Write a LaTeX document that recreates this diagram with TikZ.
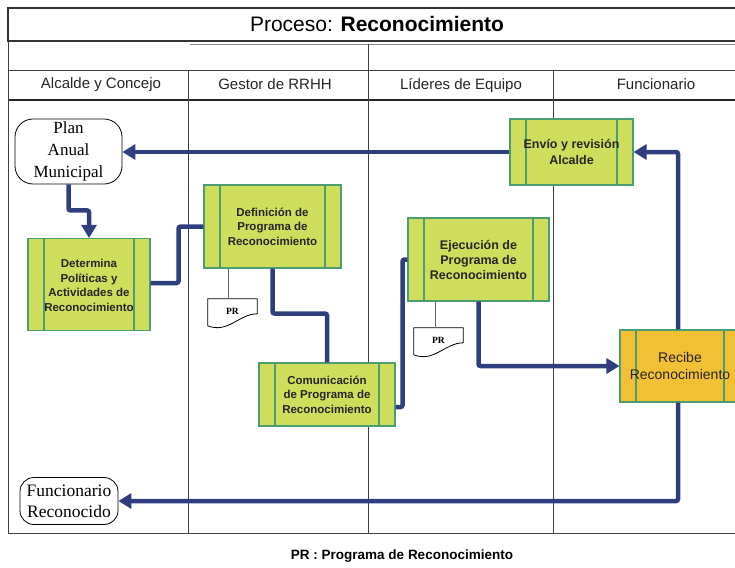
\documentclass[tikz,border=0pt]{standalone}
\usepackage{fontspec}
\setmainfont{Liberation Sans}
\newfontfamily\termfont{Liberation Serif}
\usetikzlibrary{arrows.meta,calc}
\definecolor{flowblue}{HTML}{2F3F7D}
\definecolor{boxgreen}{HTML}{CEDD5C}
\definecolor{boxedge}{HTML}{4A9E72}
\definecolor{boxorange}{HTML}{F2C035}
% document outline round a named PR node
\newcommand\prdoc[1]{\draw[line width=0.8pt] (#1.north west) -- (#1.north east) -- ($(#1.north east)+(0,15)$) .. controls ($(#1.north east)+(-18,15)$) and ($(#1.north west)+(20,35)$) .. ($(#1.north west)+(0,27)$) -- cycle;}

\begin{document}
\begin{tikzpicture}[x=1pt,y=-1pt,
		lane/.style={line width=0.7pt, color=black!75},
		lanename/.style={font=\fontsize{15}{17}\selectfont, text=black!85},
		activity/.style={draw=boxedge, fill=boxgreen, line width=1.1pt, inner sep=0pt, align=center, text=black!85,
			font=\bfseries\fontsize{11.5}{14.5}\selectfont,
			path picture={\draw[boxedge, line width=1.1pt]
				([xshift=16pt]path picture bounding box.north west) -- ([xshift=16pt]path picture bounding box.south west)
				([xshift=-16pt]path picture bounding box.north east) -- ([xshift=-16pt]path picture bounding box.south east);}},
		terminal/.style={draw, line width=0.8pt, align=center, inner sep=0pt, rounded corners=#1},
		terminal/.default=16pt,
		prnode/.style={inner sep=0pt, minimum width=49pt, minimum height=24pt, font=\termfont\bfseries\fontsize{9.5}{11}\selectfont},
		flow/.style={draw=flowblue, line width=4.5pt, rounded corners=2pt},
		tip/.style={-{Triangle[length=13pt,width=15pt]}},
		docline/.style={black!60, line width=0.8pt}]
		%%%%% START %%%%%
		\useasboundingbox (0,0) rectangle (735,567);
		
		% swimlane frame
		\draw[line width=1.1pt, color=black!80] (8,8) rectangle (740,41);
		\node (title) at (377,24) {\fontsize{21}{24}\selectfont Proceso: \textbf{Reconocimiento}};
		\draw[lane, color=black!45] (190,44) -- (735,44);
		\draw[lane] (368,44) -- (368,70);
		\draw[lane] (8,70) -- (735,70);
		\draw[line width=1.2pt, color=black!85] (8,100) -- (735,100);
		\draw[lane] (8,41) -- (8,533) -- (735,533);
		\draw[lane] (188,70) -- (188,533);
		\draw[lane] (368,70) -- (368,533);
		\draw[lane] (553,70) -- (553,533);
		
		\node[lanename] (laneA) at (101,85) {Alcalde y Concejo};
		\node[lanename] (laneB) at (275,84) {Gestor de RRHH};
		\node[lanename] (laneC) at (461,86) {Líderes de Equipo};
		\node[lanename] (laneD) at (656,84) {Funcionario};
		
		% terminals
		\node[terminal=18pt, minimum width=107pt, minimum height=65pt, font=\termfont\fontsize{17}{22}\selectfont] (plan) at (68.5,151.5) {Plan\\Anual\\Municipal};
		\node[terminal=14pt, minimum width=98pt, minimum height=47pt, font=\termfont\fontsize{17.5}{21}\selectfont] (funrec) at (69,501) {Funcionario\\Reconocido};
		
		% activities
		\node[activity, minimum width=122pt, minimum height=92pt] (determina) at (89,284.5) {\\[-4pt]Determina\\Políticas y\\Actividades de\\Reconocimiento};
		\node[activity, minimum width=137pt, minimum height=83pt] (definicion) at (272.5,226.5) {Definición de\\Programa de\\Reconocimiento};
		\node[activity, minimum width=123pt, minimum height=66pt, font=\bfseries\fontsize{12.5}{16}\selectfont] (envio) at (571.5,152) {Envío y revisión\\Alcalde};
		\node[activity, minimum width=141pt, minimum height=83pt, font=\bfseries\fontsize{12.5}{15}\selectfont] (ejecucion) at (478.5,259.5) {Ejecución de\\Programa de\\Reconocimiento};
		\node[activity, minimum width=136pt, minimum height=63pt] (comunicacion) at (327,394.5) {Comunicación\\de Programa de\\Reconocimiento};
		\node[activity, fill=boxorange, minimum width=120pt, minimum height=72pt, font=\fontsize{14}{17}\selectfont] (recibe) at (680,366) {Recibe\\Reconocimiento};
		
		% PR documents
		\node[prnode] (prA) at (232.5,311) {PR};
		\prdoc{prA}
		\path (prA.north) ++(-4,0) coordinate (prAtop);
		\draw[docline] (prAtop) -- (prAtop |- definicion.south);
		\node[prnode] (prB) at (438.5,340) {PR};
		\prdoc{prB}
		\path (prB.north) ++(-3.5,0) coordinate (prBtop);
		\draw[docline] (prBtop) -- (prBtop |- ejecucion.south);
		
		% flow
		\draw[flow, tip] (envio.west) -- (envio.west -| plan.east);
		\draw[flow, tip] (plan.south) -- ++(0,26) -| (determina.north);
		\draw[flow] ([yshift=1.5pt]determina.east) -- ++(28,0) |- (definicion.west);
		\draw[flow] (definicion.south) -- ++(0,45) -| (comunicacion.north);
		\draw[flow] ([yshift=-12.5pt]comunicacion.east) -- ++(7,0) |- (ejecucion.west);
		\draw[flow, tip] (ejecucion.south) |- (recibe.west);
		\draw[flow, tip] ([xshift=-2pt]recibe.north) |- (envio.east);
		\draw[flow, tip] ([xshift=-2pt]recibe.south) |- (funrec.east);
		
		\node[font=\bfseries\fontsize{13.5}{16}\selectfont] (nota) at (402,556) {PR : Programa de Reconocimiento};
		%%%%% END %%%%%
	\end{tikzpicture}
\end{document}
